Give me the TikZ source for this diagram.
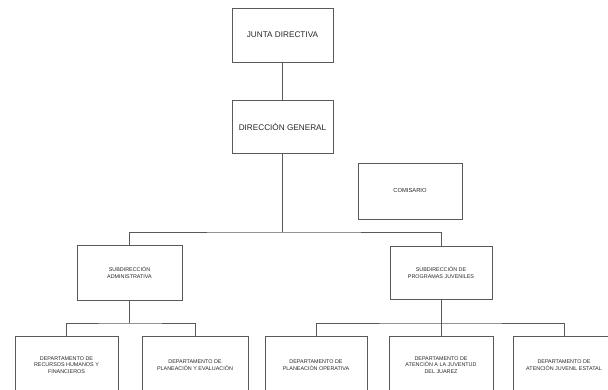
\documentclass[tikz,border=0pt]{standalone}
\usepackage{fontspec}
\setmainfont{Liberation Sans}
\usepackage{tikz}
\usetikzlibrary{calc}

\begin{document}
\begin{tikzpicture}[x=1pt,y=-1pt]
\tikzstyle{caja}=[rectangle,draw=black!65,line width=0.8pt,align=center,text=black!85,inner sep=1pt]
\tikzstyle{big}=[caja,font=\fontsize{8.2}{10}\selectfont]
\tikzstyle{small}=[caja,font=\fontsize{5.4}{6.6}\selectfont]
\tikzstyle{linea}=[draw=black!65,line width=0.8pt]
\useasboundingbox (0,0) rectangle (608,390);
% top levels
\node [big,minimum width=101pt,minimum height=54pt] (junta) at (282.5,35) {JUNTA DIRECTIVA};
\node [big,minimum width=101pt,minimum height=53pt] (direccion) at (282.5,126.5) {DIRECCI\'ON GENERAL};
\node [small,font=\fontsize{5.8}{7}\selectfont,minimum width=104pt,minimum height=56pt] (comisario) at (410,191) {COMISARIO};
% subdirecciones
\node [small,minimum width=105pt,minimum height=55pt] (subadm) at (129.5,272.5) {SUBDIRECCI\'ON\\ADMINISTRATIVA};
\node [small,minimum width=102pt,minimum height=53pt] (subprog) at (441,272.5) {SUBDIRECCI\'ON DE\\PROGRAMAS JUVENILES};
% departamentos
\node [small,minimum width=103pt,minimum height=58pt] (dephum) at (66.5,365) {DEPARTAMENTO DE\\RECURSOS HUMANOS Y\\FINANCIEROS};
\node [small,minimum width=106pt,minimum height=58pt] (depeval) at (195,365) {DEPARTAMENTO DE\\PLANEACI\'ON Y EVALUACI\'ON};
\node [small,minimum width=102pt,minimum height=58pt] (depoper) at (316,365) {DEPARTAMENTO DE\\PLANEACI\'ON OPERATIVA};
\node [small,minimum width=104pt,minimum height=58pt] (depjuv) at (441,365) {DEPARTAMENTO DE\\ATENCI\'ON A LA JUVENTUD\\DEL JUAREZ};
\node [small,minimum width=102pt,minimum height=58pt] (depest) at (564,365) {DEPARTAMENTO DE\\ATENCI\'ON JUVENIL ESTATAL};
% uniones
\coordinate (u1) at (282.5,232);
\coordinate (u2) at (129.5,323);
\coordinate (u3) at (441,323);
\draw [linea] (junta) -- (direccion);
\draw [linea] (direccion) -- (u1);
\draw [linea] (subadm.north) |- (u1) -| (subprog.north);
\draw [linea] (subadm) -- (u2);
\draw [linea] (dephum.north) |- (u2) -| (depeval.north);
\draw [linea] (subprog.south) -- (depjuv.north);
\draw [linea] (depoper.north) |- (u3) -| (depest.north);
\end{tikzpicture}
\end{document}
